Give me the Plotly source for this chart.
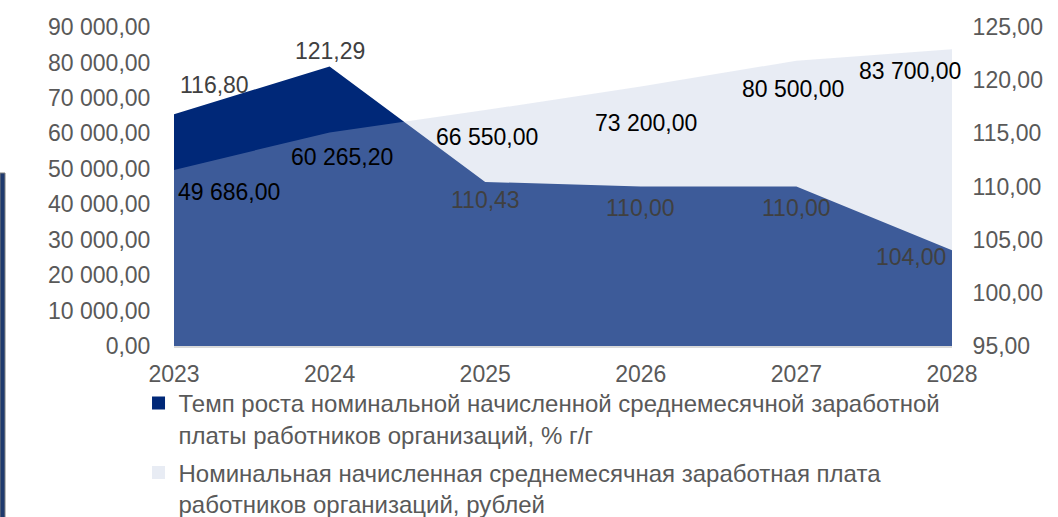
import plotly.graph_objects as go

years = [2023, 2024, 2025, 2026, 2027, 2028]
growth_rate = [116.80, 121.29, 110.43, 110.00, 110.00, 104.00]
wage = [49686.00, 60265.20, 66550.00, 73200.00, 80500.00, 83700.00]

name_growth = "Темп роста номинальной начисленной среднемесячной заработной<br>платы работников организаций, % г/г"
name_wage = "Номинальная начисленная среднемесячная заработная плата<br>работников организаций, рублей"

NAVY = "rgb(0,40,120)"
LIGHT_FILL = "rgba(185,197,222,0.33)"
LIGHT_LEG = "#e8ecf4"
GRAY = "#595959"
FONT = "Liberation Sans, Arial, sans-serif"


def fmt(v):
    return f"{v:,.2f}".replace(",", " ").replace(".", ",")


fig = go.Figure()

# Growth-rate area (right axis)
fig.add_trace(go.Scatter(
    x=years, y=growth_rate, yaxis="y", mode="lines",
    line=dict(width=0, color=NAVY), fill="tozeroy", fillcolor=NAVY,
    showlegend=False, hoverinfo="skip",
))
# Wage area (left axis) drawn on top with transparency
fig.add_trace(go.Scatter(
    x=years, y=wage, yaxis="y2", mode="lines",
    line=dict(width=0, color=LIGHT_FILL), fill="tozeroy", fillcolor=LIGHT_FILL,
    showlegend=False, hoverinfo="skip",
))

# legend proxies
fig.add_trace(go.Scatter(
    x=[None], y=[None], mode="markers", name=name_growth, legendgroup="a",
    marker=dict(symbol="square", size=13, color=NAVY),
))
fig.add_trace(go.Scatter(
    x=[None], y=[None], mode="markers", name=name_wage, legendgroup="b",
    marker=dict(symbol="square", size=13, color=LIGHT_LEG),
))

annotations = []
g_shifts = [(40, 29), (0, 15), (0, -18), (0, -21), (0, -21), (-41, -7)]
for x, v, (dx, dy) in zip(years, growth_rate, g_shifts):
    annotations.append(dict(
        x=x, y=v, xref="x", yref="y", text=fmt(v), showarrow=False,
        xshift=dx, yshift=dy, font=dict(size=23, color="#404040", family=FONT),
    ))
w_shifts = [(55, -22), (12, -25), (2, -27), (5, -36), (-3, -28), (-42, -22)]
for x, v, (dx, dy) in zip(years, wage, w_shifts):
    annotations.append(dict(
        x=x, y=v, xref="x", yref="y2", text=fmt(v), showarrow=False,
        xshift=dx, yshift=dy, font=dict(size=23, color="#000000", family=FONT),
    ))

fig.update_layout(
    width=1058, height=517,
    margin=dict(l=174, r=106, t=27, b=171, autoexpand=False),
    paper_bgcolor="white", plot_bgcolor="white",
    separators=", ",
    font=dict(family=FONT, color=GRAY, size=23),
    xaxis=dict(
        range=[2023, 2028], tickvals=years, ticktext=[str(y) for y in years],
        showgrid=False, zeroline=False, showline=True, linecolor="#d9d9d9", linewidth=2,
        ticks="outside", ticklen=6, tickcolor="rgba(0,0,0,0)", automargin=False,
        tickfont=dict(size=23, color=GRAY),
    ),
    yaxis=dict(
        side="right", range=[95, 125], dtick=5, tickformat=",.2f",
        showgrid=False, zeroline=False, showline=False, automargin=False,
        ticks="outside", ticklen=15, tickcolor="rgba(0,0,0,0)",
        tickfont=dict(size=23, color=GRAY),
    ),
    yaxis2=dict(
        side="left", overlaying="y", range=[0, 90000], dtick=10000, tickformat=",.2f",
        showgrid=False, zeroline=False, showline=False, automargin=False,
        ticks="outside", ticklen=18, tickcolor="rgba(0,0,0,0)",
        tickfont=dict(size=23, color=GRAY),
    ),
    legend=dict(
        x=-0.0456, y=-0.1096, xanchor="left", yanchor="top", valign="top",
        font=dict(family=FONT, size=24, color=GRAY),
        tracegroupgap=4, itemwidth=30, bgcolor="rgba(0,0,0,0)",
    ),
    annotations=annotations,
    shapes=[dict(
        type="rect", xref="paper", yref="paper",
        x0=-174 / 778, x1=-169 / 778, y0=(346 - 530) / 319, y1=(346 - 173) / 319,
        fillcolor="#1f3a6e", line=dict(color="#7f7f7f", width=1), layer="above",
    )],
)

fig.write_html(
    "out.html",
    config={"displayModeBar": False},
    post_script="document.body.style.margin='0';document.body.style.overflow='hidden';",
)
